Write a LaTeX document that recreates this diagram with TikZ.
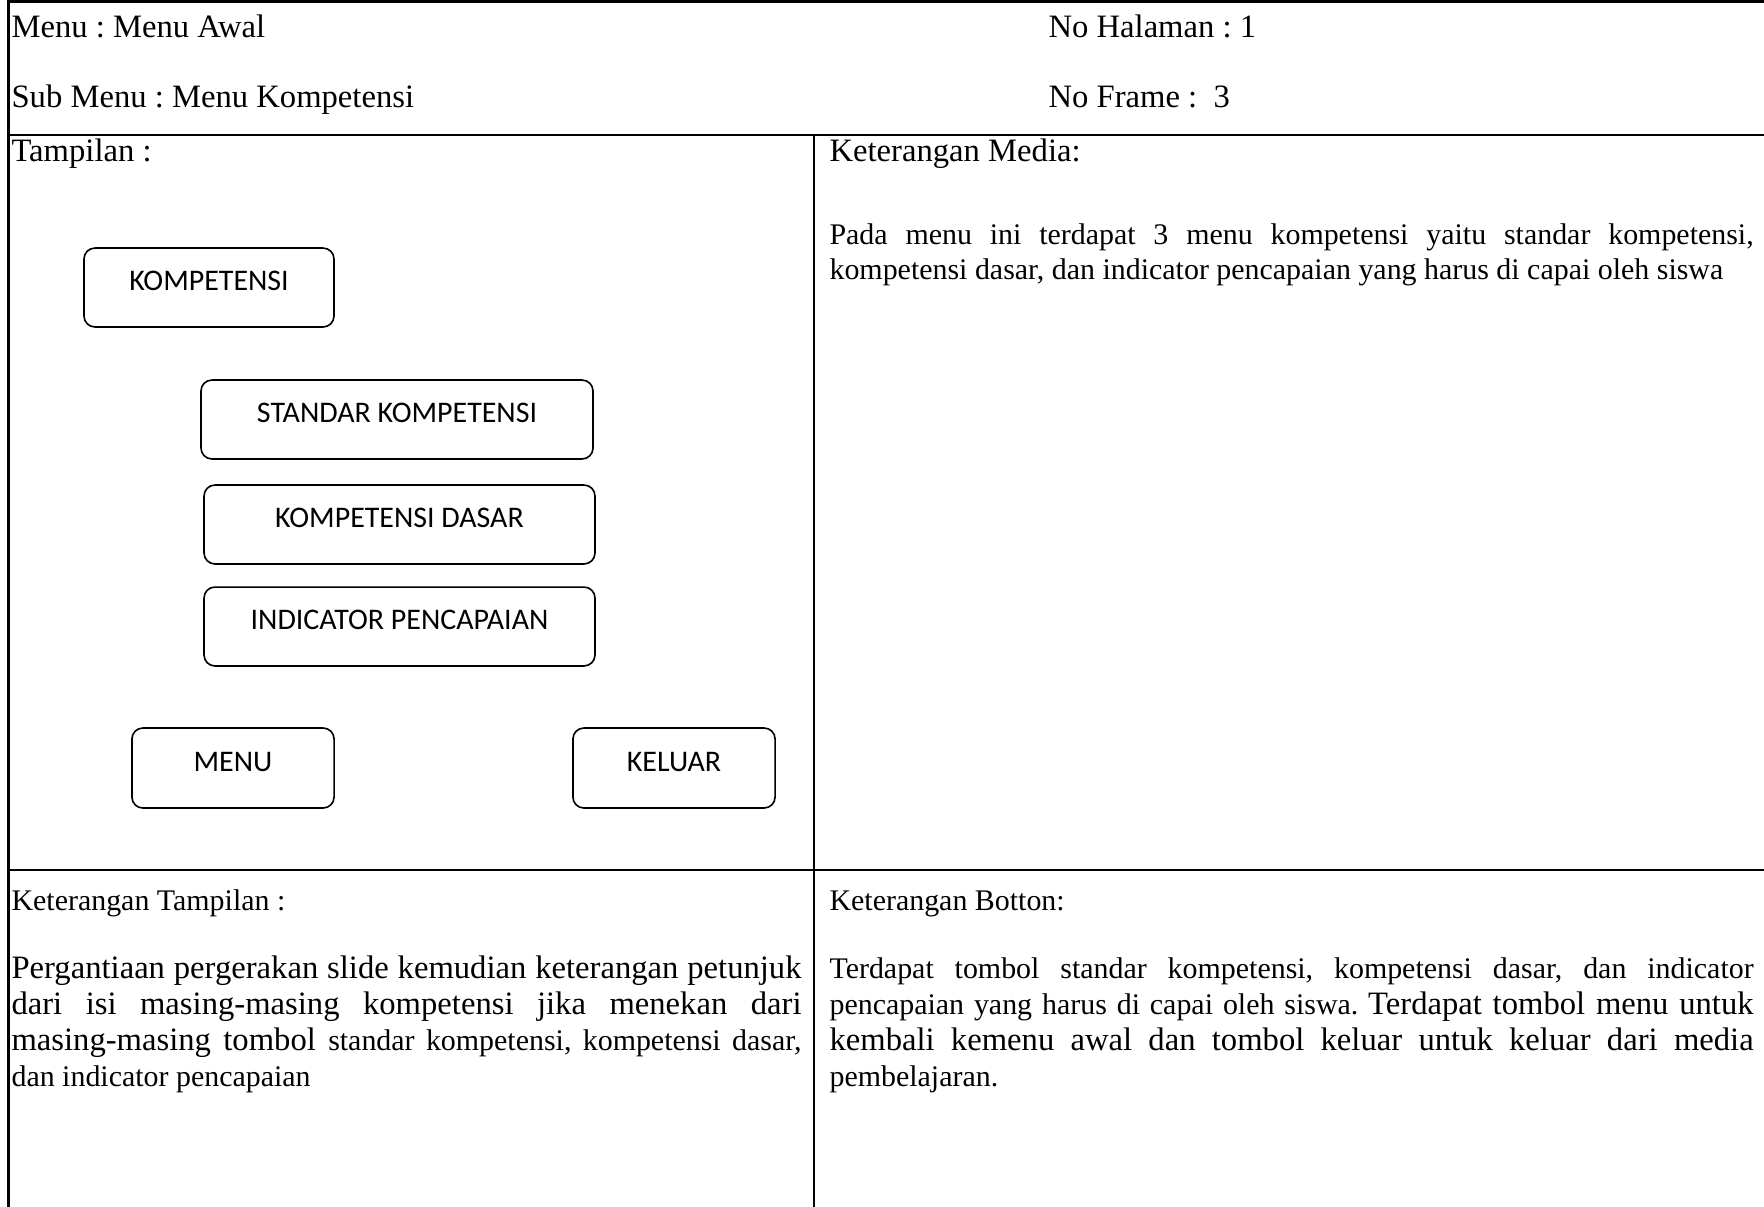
\documentclass[tikz,border=0pt]{standalone}
\usepackage{fontspec}
\setmainfont{Liberation Serif}
\newfontfamily\buttonfont{Carlito}
\frenchspacing
% text sizes used in the form
\newcommand\bigtxt{\fontsize{12}{13.3}\selectfont}
\newcommand\smalltxt{\fontsize{11}{13.3}\selectfont}
% one justified line of a paragraph, spread to the given width
\newcommand\fillline[2]{\makebox[#1][s]{#2}\par}
\newcommand\lastline[1]{\mbox{#1}\par}
\begin{document}
\begin{tikzpicture}[x=0.3676pt, y=-0.3676pt,
  rule/.style={line width=1pt, line cap=rect, line join=miter},
  btn/.style={draw, line width=0.6pt, rounded corners=4pt, inner sep=0pt,
    font=\buttonfont\fontsize{11}{13}\selectfont,
    text height=7.5pt, text depth=5.2pt, align=center},
  head/.style={anchor=base west, inner sep=0pt, font=\bigtxt},
  subhead/.style={anchor=base west, inner sep=0pt, font=\smalltxt},
  para/.style={anchor=base west, inner sep=0pt}
]
\useasboundingbox (0,0) rectangle (1764,1206);

% table rules (the table runs on past the right and bottom edges)
\coordinate (frameTL) at (8.5,1.8);
\coordinate (frameTR) at (1764,1.8);
\coordinate (frameBL) at (8.5,1206);
\coordinate (rowAL) at (8.5,135);
\coordinate (rowAR) at (1764,135);
\coordinate (rowBL) at (8.5,870);
\coordinate (rowBR) at (1764,870);
\coordinate (colT) at (814,135);
\coordinate (colB) at (814,1206);
\draw[rule] (frameBL) -- (frameTL) -- (frameTR);
\draw[rule] (rowAL) -- (rowAR);
\draw[rule] (rowBL) -- (rowBR);
\draw[rule] (colT) -- (colB);

% header row
\node[head] (menu) at (11,37) {Menu : Menu Awal};
\node[head] (submenu) at (11,107) {Sub Menu : Menu Kompetensi};
\node[head] (halaman) at (1048,37) {No Halaman : 1};
\node[head] (frame) at (1048,107) {No Frame : \ 3};

% middle row
\node[head] (tampilan) at (11,161) {Tampilan :};
\node[head] (ketmedia) at (829,161) {Keterangan Media:};
\node[para] (media) at (829,244) {\parbox[t]{339.7pt}{\parindent=0pt\lineskiplimit=-20pt\fontsize{11}{12.9}\selectfont
  \fillline{339.7pt}{Pada menu ini terdapat 3 menu kompetensi yaitu standar kompetensi,}
  \lastline{kompetensi dasar, dan indicator pencapaian yang harus di capai oleh siswa}}};

% buttons of the screen layout
\node[btn, minimum width=91.9pt, minimum height=29.0pt] (kompetensi) at (209,287.5) {KOMPETENSI};
\node[btn, minimum width=144.1pt, minimum height=29.0pt] (standar) at (397,419.5) {STANDAR KOMPETENSI};
\node[btn, minimum width=143.7pt, minimum height=29.0pt] (dasar) at (399.5,524.5) {KOMPETENSI DASAR};
\node[btn, minimum width=143.7pt, minimum height=29.0pt] (indikator) at (399.5,626.5) {INDICATOR PENCAPAIAN};
\node[btn, minimum width=74.3pt, minimum height=29.4pt] (menubtn) at (233,768) {MENU};
\node[btn, minimum width=74.3pt, minimum height=29.4pt] (keluar) at (674,768) {KELUAR};

% bottom row
\node[subhead] (kettampilan) at (11,910) {Keterangan Tampilan :};
\node[subhead] (ketbotton) at (829,910) {Keterangan Botton:};
\node[para] (tampilantext) at (11,978) {\parbox[t]{290.4pt}{\parindent=0pt\lineskiplimit=-20pt\bigtxt
  \fillline{290.4pt}{\bigtxt Pergantiaan pergerakan slide kemudian keterangan petunjuk}
  \fillline{290.4pt}{\bigtxt dari isi masing-masing kompetensi jika menekan dari}
  \fillline{290.4pt}{\bigtxt masing-masing tombol \smalltxt standar kompetensi, kompetensi dasar,}
  \lastline{\smalltxt dan indicator pencapaian}}};
\node[para] (bottontext) at (829,978) {\parbox[t]{339.7pt}{\parindent=0pt\lineskiplimit=-20pt\bigtxt
  \fillline{339.7pt}{\smalltxt Terdapat tombol standar kompetensi, kompetensi dasar, dan indicator}
  \fillline{339.7pt}{\smalltxt pencapaian yang harus di capai oleh siswa. \bigtxt Terdapat tombol menu untuk}
  \fillline{339.7pt}{\bigtxt kembali kemenu awal dan tombol keluar untuk keluar dari media}
  \lastline{\smalltxt pembelajaran.}}};
\end{tikzpicture}
\end{document}
